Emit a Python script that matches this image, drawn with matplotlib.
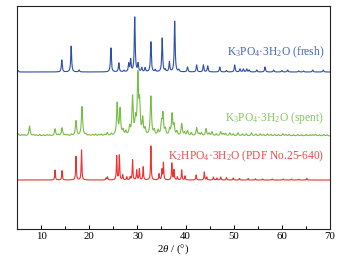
import numpy as np
import matplotlib
matplotlib.use("Agg")
import matplotlib.pyplot as plt
from matplotlib.ticker import MultipleLocator

plt.rcParams['font.family'] = ['Liberation Serif', 'DejaVu Serif']
plt.rcParams['mathtext.fontset'] = 'custom'
plt.rcParams['mathtext.rm'] = 'Liberation Serif'
plt.rcParams['mathtext.it'] = 'Liberation Serif:italic'

# ---- data (peak positions in 2theta, intensities in arbitrary units) ----
fresh_pos = [5.2, 14.3, 16.25, 17.9, 24.5, 26.15, 27.2, 28.2, 28.6, 29.45, 30.15, 30.9, 31.6,
             32.8, 33.7, 35.15, 35.8, 36.65, 37.75, 38.6, 40.4, 42.3, 43.7, 44.6, 47.1, 48.5,
             50.2, 51.3, 52.0, 52.7, 53.2, 54.8, 56.5, 58.3, 60.0, 61.2, 63.5, 64.5, 66.4, 68.6]
fresh_int = [1.5, 12, 26, 2, 24, 9, 1.5, 8, 12, 55, 8, 4, 4,
             30, 2, 34, 2, 10, 51, 2, 5, 7, 7, 6, 5, 1.5,
             7, 3, 3, 3, 2, 2, 5, 2, 1.5, 2, 1, 1, 2, 2]

spent_pos = [5.3, 6.0, 6.5, 7.6, 8.4, 9.0, 9.7, 10.5, 11.2, 11.8, 12.9, 13.6, 14.35, 15.0, 15.5,
             16.3, 17.25, 18.5, 19.3, 20.0, 20.7, 21.3, 22.0, 22.5, 23.2,
             23.75, 24.6, 25.8, 26.4, 27.0, 27.6, 28.4, 29.0, 29.6, 30.1, 30.45, 31.1, 31.6, 32.8,
             33.5, 34.3, 35.0, 35.3, 35.8, 36.7, 37.2, 37.6, 38.2, 39.2, 39.8, 40.4, 41.2, 42.3,
             42.8, 43.3, 44.25, 44.9, 45.5, 46.4, 47.3, 47.8, 48.3, 49.2, 49.9, 50.9, 51.8, 52.6,
             53.7, 54.6, 55.5, 56.2, 57.0, 57.7, 58.5, 59.3, 60.2, 60.8, 61.5, 62.4, 63.3, 64.1,
             65.0, 65.8, 66.4, 67.0, 67.8, 68.7, 69.4]
spent_int = [2, 1.2, 1, 10, 1.2, 1, 1.3, 1, 1.2, 1, 7, 1.3, 8, 1.2, 1,
             1.5, 15, 29, 1.5, 1, 1.3, 1.5, 1.2, 1.5, 1.3,
             3, 2, 32, 26, 5, 4, 8, 38, 15, 58, 30, 16, 6, 39,
             5, 5, 12, 21, 6, 6, 21, 10, 4, 12, 3, 5, 3, 8,
             2, 3, 7, 2.5, 4, 2, 4, 2, 2.5, 3, 2, 3, 2, 2,
             3, 2, 2, 1.5, 2, 1.5, 1.5, 1.3, 2, 1.3, 1.5, 1.2, 1.5, 1.2,
             1.5, 1.2, 1.3, 1.5, 1.2, 1.5, 1.2]

pdf_pos = [12.9, 14.35, 17.25, 18.4, 23.5, 23.8, 25.7, 26.25, 26.95, 27.8, 28.5, 29.0, 29.85,
           30.4, 31.2, 32.8, 34.5, 35.1, 35.4, 37.15, 37.6, 38.3, 39.2, 39.9, 42.2, 43.9,
           44.4, 45.8, 46.5, 47.3, 48.5, 49.9, 51.2, 53.0, 54.5, 56.0, 58.0, 60.3, 62.0,
           63.5, 65.2]
pdf_int = [10, 9.5, 24, 30, 2, 3, 24, 25, 5, 3, 3, 20, 10,
           11, 13, 34, 6, 10, 17, 17, 10, 3, 10, 4, 5, 8,
           3, 3, 2, 3, 2.5, 2, 1.5, 1.5, 1.2, 1.0, 1, 1, 1,
           0.8, 1.5]

offsets = [157, 93, 49]
labels = ['K$_3$PO$_4$·3H$_2$O (fresh)', 'K$_3$PO$_4$·3H$_2$O (spent)',
          'K$_2$HPO$_4$·3H$_2$O (PDF No.25-640)']
line_colors = ['#2d4fa6', '#77bd45', '#ee3030']
text_colors = ['#3f63b8', '#85c45a', '#f04848']
widths = [0.22, 0.30, 0.16]
label_y = [177, 111, 73]

fig = plt.figure(figsize=(3.57, 2.60), dpi=100)
fig.patch.set_facecolor('white')
ax = fig.add_axes([17/357, 31/260, 313/357, 223.3/260])

tt = np.arange(5, 70.001, 0.02)

def profile(pos, inten, w):
    y = np.zeros_like(tt)
    for p, h in zip(pos, inten):
        y += h / (1 + ((tt - p) / (w / 2)) ** 2)
    return y

series = [(fresh_pos, fresh_int), (spent_pos, spent_int), (pdf_pos, pdf_int)]
for (pos, inten), off, c, w in zip(series, offsets, line_colors, widths):
    ax.plot(tt, profile(pos, inten, w) + off, color=c, lw=0.8)

for lab, ly, tc in zip(labels, label_y, text_colors):
    ax.text(68.8, ly, lab, color=tc, fontsize=8.3, ha='right', va='center')

ax.set_xlim(5, 70)
ax.set_ylim(0, 223.3)
ax.set_yticks([])
ax.xaxis.set_major_locator(MultipleLocator(10))
ax.xaxis.set_minor_locator(MultipleLocator(5))
ax.tick_params(axis='x', which='major', direction='in', length=3, width=0.7, labelsize=7.8, pad=2)
ax.tick_params(axis='x', which='minor', direction='in', length=2, width=0.7)
ax.set_xlabel('$2\\theta$ / (°)', fontsize=7.8, labelpad=1)
for s in ax.spines.values():
    s.set_linewidth(0.8)
    s.set_color('#222222')

fig.savefig('out.png', dpi=100)
